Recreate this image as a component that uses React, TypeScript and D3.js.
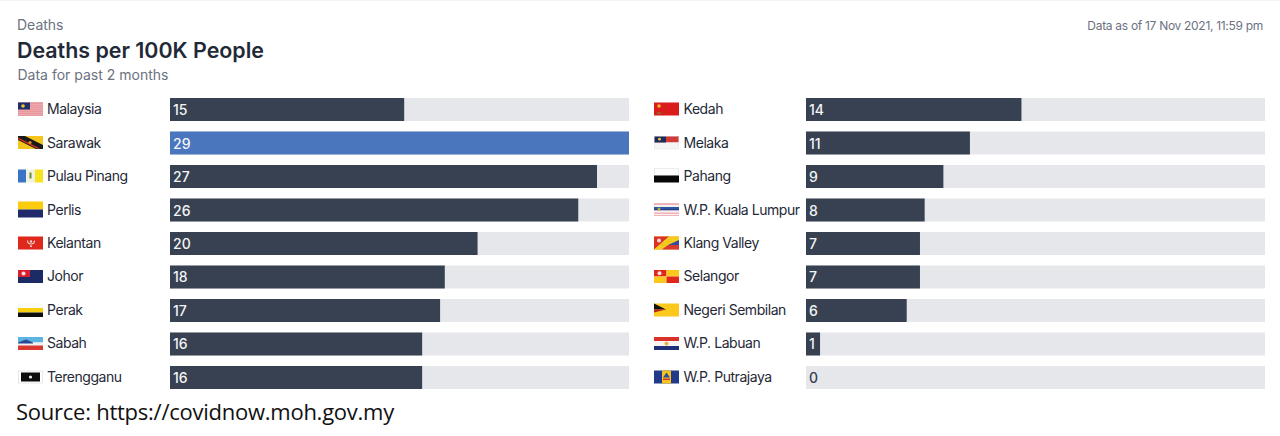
import React from 'react';
import * as d3 from 'd3';

const leftStates = ['Malaysia', 'Sarawak', 'Pulau Pinang', 'Perlis', 'Kelantan', 'Johor', 'Perak', 'Sabah', 'Terengganu'];
const leftValues = [15.0, 29.4, 27.35, 26.15, 19.7, 17.6, 17.3, 16.15, 16.15];
const rightStates = ['Kedah', 'Melaka', 'Pahang', 'W.P. Kuala Lumpur', 'Klang Valley', 'Selangor', 'Negeri Sembilan', 'W.P. Labuan', 'W.P. Putrajaya'];
const rightValues = [13.8, 10.5, 8.8, 7.6, 7.3, 7.3, 6.45, 0.9, 0];
const highlighted = 'Sarawak';

const FONT = 'Inter, "Noto Sans", sans-serif';
const maxValue = 29.4;

// little hand drawn flags, 25 x 14 box
function Flag({ name }: { name: string }) {
  const r = (x: number, y: number, w: number, h: number, fill: string, k?: number) => (
    <rect key={k} x={x} y={y} width={w} height={h} fill={fill} />
  );
  switch (name) {
    case 'Malaysia':
      return (
        <g>
          {r(0, 0, 25, 13, '#fff')}
          {[0, 2, 4, 6, 8, 10, 12].map((y) => r(0, y, 25, 1.1, '#d9545c', y))}
          {r(0, 0, 12, 7, '#1f2f6b')}
          <circle cx={5} cy={3.5} r={1.8} fill="#f4c430" />
        </g>
      );
    case 'Sarawak':
      return (
        <g>
          {r(0, 0, 25, 13, '#f6c51b')}
          <path d="M0,0 L7,0 L25,9 L25,13 L18,13 L0,4 Z" fill="#1a1a1a" />
          <path d="M0,1.5 L22,12.5 L19,12.5 L0,3 Z" fill="#d9341f" />
          <circle cx={12} cy={6.5} r={1.6} fill="#e58a1f" />
        </g>
      );
    case 'Pulau Pinang':
      return (
        <g>
          {r(0, 0, 8, 13, '#3b74c4')}
          {r(8, 0, 9, 13, '#f1f1e2')}
          {r(17, 0, 8, 13, '#f8e21c')}
          {r(11.5, 3, 2, 6, '#6b8b3a')}
        </g>
      );
    case 'Perlis':
      return (
        <g>
          {r(0, 0, 25, 8, '#fbcc0d')}
          {r(0, 8, 25, 8, '#1f2a6b')}
        </g>
      );
    case 'Kelantan':
      return (
        <g>
          {r(0, 0, 25, 13, '#e0271c')}
          <path d="M9.5,4 A3.5,3.5 0 0 0 16.5,4" fill="none" stroke="#f4d9d0" strokeWidth={1.1} />
          <circle cx={13} cy={5} r={1.2} fill="#f4d9d0" />
          {r(12, 9, 2, 1.5, '#f4d9d0')}
        </g>
      );
    case 'Johor':
      return (
        <g>
          {r(0, 0, 25, 13, '#1c2a66')}
          {r(0, 0, 12, 7, '#d91f2e')}
          <circle cx={5.5} cy={3.5} r={2} fill="#f3dcdc" />
        </g>
      );
    case 'Perak':
      return (
        <g>
          {r(0, 0, 25, 4.5, '#fafafa')}
          {r(0, 4.5, 25, 4.5, '#f8cf10')}
          {r(0, 9, 25, 4.5, '#0d0d0d')}
        </g>
      );
    case 'Sabah':
      return (
        <g>
          {r(0, 0, 25, 5.5, '#5cb4e2')}
          {r(0, 5.5, 25, 3, '#f0f0f0')}
          {r(0, 8.5, 25, 4.5, '#d9392f')}
          <path d="M0,5.5 L8,2.5 L15,5.5 L15,6.5 L0,6.5 Z" fill="#2a4a92" />
        </g>
      );
    case 'Terengganu':
      return (
        <g>
          <rect x={0.5} y={0.5} width={24} height={12} fill="#fff" stroke="#ddd" strokeWidth={0.7} />
          {r(3, 2, 19, 9, '#0c0c0c')}
          <circle cx={12.5} cy={6.5} r={1.6} fill="#eee" />
        </g>
      );
    case 'Kedah':
      return (
        <g>
          {r(0, 0, 25, 13, '#da1c1c')}
          <circle cx={5} cy={3.5} r={1.8} fill="#f2c01e" />
          {r(3, 10, 4, 1.2, '#6b8b3a')}
        </g>
      );
    case 'Melaka':
      return (
        <g>
          {r(0, 0, 25, 6.5, '#cf3a36')}
          {r(0, 6.5, 25, 6.5, '#f6f4f4')}
          {r(0, 0, 12, 6.5, '#1f2a5c')}
          <circle cx={5.5} cy={3.2} r={1.4} fill="#e9c840" />
          <rect x={0.3} y={0.3} width={24.4} height={12.7} fill="none" stroke="#e3e3e3" strokeWidth={0.5} />
        </g>
      );
    case 'Pahang':
      return (
        <g>
          <rect x={0.3} y={0.3} width={24.4} height={7} fill="#fdfdfd" stroke="#ddd" strokeWidth={0.5} />
          {r(0, 7.5, 25, 7, '#080808')}
        </g>
      );
    case 'W.P. Kuala Lumpur':
      return (
        <g>
          {r(0, 0, 25, 13, '#f1b4ba')}
          {r(0, 2, 25, 2, '#f6f0f0')}
          {r(0, 4, 25, 2, '#2a57a4')}
          {r(0, 6, 25, 1.5, '#24408a')}
          {r(0, 7.5, 25, 2, '#f6f0f0')}
          {r(0, 11, 25, 1, '#f6f0f0')}
          <circle cx={5} cy={6} r={1.5} fill="#c9a63a" />
        </g>
      );
    case 'Klang Valley':
      return (
        <g>
          {r(0, 0, 25, 13, '#e0a820')}
          <path d="M0,0 L15,0 L0,13 Z" fill="#dd3128" />
          <path d="M15,0 L25,0 L25,6 L6,13 L0,13 Z" fill="#f7c91e" />
          <path d="M25,3.5 L25,8.5 L14,8.5 Z" fill="#2f4ca0" />
          <path d="M25,8.5 L25,13 L8,13 L14,8.5 Z" fill="#d9392f" />
          <circle cx={5} cy={4} r={2} fill="#f3dcdc" />
        </g>
      );
    case 'Selangor':
      return (
        <g>
          {r(0, 0, 12.5, 6.5, '#e0271c')}
          {r(12.5, 0, 12.5, 6.5, '#fbc91c')}
          {r(0, 6.5, 12.5, 6.5, '#fbc91c')}
          {r(12.5, 6.5, 12.5, 6.5, '#e0271c')}
          <circle cx={5.5} cy={3.3} r={2} fill="#f7e3dc" />
        </g>
      );
    case 'Negeri Sembilan':
      return (
        <g>
          {r(0, 0, 25, 13, '#fbc81d')}
          <path d="M0,0 L12,6 L0,6 Z" fill="#121212" />
          <path d="M0,6 L12,6 L0,9 Z" fill="#b8281c" />
        </g>
      );
    case 'W.P. Labuan':
      return (
        <g>
          {r(0, 0, 25, 4, '#d8322a')}
          {r(0, 4, 25, 5, '#f7f4f2')}
          {r(0, 9, 25, 4, '#1f2f78')}
          <circle cx={12.5} cy={6.5} r={2} fill="#e3b240" />
        </g>
      );
    case 'W.P. Putrajaya':
      return (
        <g>
          {r(0, 0, 25, 13, '#233a8a')}
          {r(8, 0, 9, 13, '#f5c51d')}
          <path d="M12.5,2 L16,7 L9,7 Z" fill="#2f4ca0" />
          {r(9, 8, 7, 1.5, '#cc3a30')}
        </g>
      );
    default:
      return null;
  }
}

function BarColumn({ states, values, x0, x1, labelX, flagX }: { states: string[]; values: number[]; x0: number; x1: number; labelX: number; flagX: number }) {
  const x = d3.scaleLinear().domain([0, maxValue]).range([x0, x1]);
  const y = d3.scaleBand<string>().domain(states).range([98, 389]).paddingInner(0.3134);
  return (
    <g>
      {states.map((s, i) => {
        const yy = y(s) as number;
        const h = y.bandwidth();
        return (
          <g key={s}>
            <g transform={`translate(${flagX},${yy + (s === 'Perlis' || s === 'Pahang' ? 3 : 4.5)})`}>
              <Flag name={s} />
            </g>
            <text x={labelX} y={yy + h / 2 + 4.5} fontSize={14} letterSpacing={-0.45} fill="#1f2937">{s}</text>
            <rect x={x0} y={yy} width={x1 - x0} height={h} fill="#e5e7eb" />
            <rect x={x0} y={yy} width={x(values[i]) - x0} height={h} fill={s === highlighted ? '#4a76bd' : '#374151'} />
            <text x={x0 + 3} y={yy + h / 2 + 5.5} fontSize={14} fontWeight={500} fill={values[i] > 0 ? '#f3f4f6' : '#374151'}>{Math.round(values[i])}</text>
          </g>
        );
      })}
    </g>
  );
}

export default function App() {
  return (
    <svg width={1280} height={436} fontFamily={FONT} style={{ position: 'absolute', left: 0, top: 0, background: '#fff' }}>
      <line x1={0} x2={1280} y1={0.5} y2={0.5} stroke="#f3f4f6" />
      <text x={17} y={30} fontSize={14} fill="#6b7280">Deaths</text>
      <text x={17} y={57.5} fontSize={21.4} fontWeight={600} fill="#1f2937">Deaths per 100K People</text>
      <text x={17.5} y={80} fontSize={14} fill="#6b7280">Data for past 2 months</text>
      <text x={1263} y={30} fontSize={12} textAnchor="end" letterSpacing={-0.3} fill="#6b7280">Data as of 17 Nov 2021, 11:59 pm</text>
      <BarColumn states={leftStates} values={leftValues} x0={170} x1={629} labelX={47} flagX={18} />
      <BarColumn states={rightStates} values={rightValues} x0={806} x1={1265} labelX={683.5} flagX={654} />
      <text x={16} y={420} fontSize={22} letterSpacing={-0.25} fontFamily='"Open Sans", sans-serif' fill="#111">Source: https://covidnow.moh.gov.my</text>
    </svg>
  );
}
